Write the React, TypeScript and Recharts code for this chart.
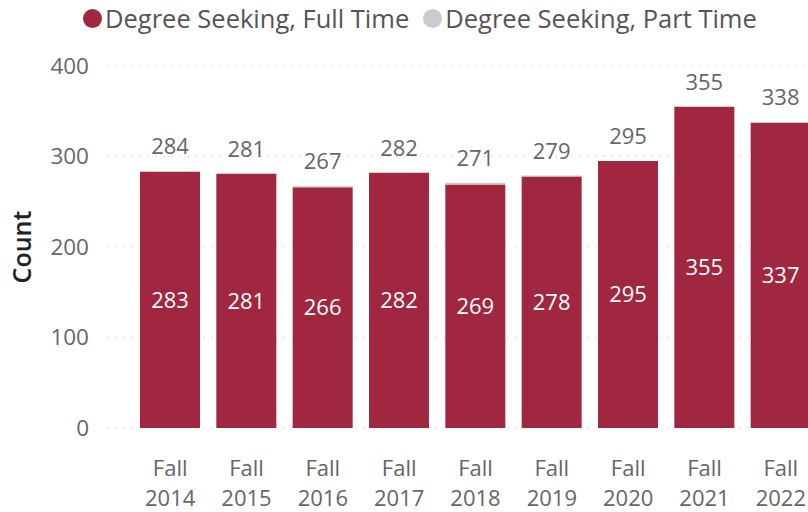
import { BarChart, Bar, XAxis, YAxis, CartesianGrid, LabelList } from 'recharts';

const years = ['2014', '2015', '2016', '2017', '2018', '2019', '2020', '2021', '2022'];
const fullTime = [283, 281, 266, 282, 269, 278, 295, 355, 337];
const partTime = [1, 0, 1, 0, 2, 1, 0, 0, 1];
const yTicks = [0, 100, 200, 300, 400];

const FULL_COLOR = '#A1263F';
const PART_COLOR = '#C8CCCC';
const FONT = '"Segoe UI", "Open Sans", sans-serif';

const data = years.map((year, i) => ({
  term: `Fall ${year}`,
  full: fullTime[i],
  part: partTime[i],
  total: fullTime[i] + partTime[i],
}));

const legendItems = [
  { label: 'Degree Seeking, Full Time', color: FULL_COLOR },
  { label: 'Degree Seeking, Part Time', color: PART_COLOR },
];

const XTick = (props: any) => {
  const { x, y, payload } = props;
  const [first, second] = String(payload.value).split(' ');
  return (
    <text x={x} y={y} textAnchor="middle" fill="#666" fontSize={22} fontFamily={FONT}>
      <tspan x={x} dy={40}>{first}</tspan>
      <tspan x={x} dy={30}>{second}</tspan>
    </text>
  );
};

// total label sits on top of the stack; part segment height is scaled from the full rect
const TotalLabel = (props: any) => {
  const { x, y, width, height, index } = props;
  const row = data[index];
  const partHeight = row.full ? (row.part * height) / row.full : 0;
  return (
    <text
      x={x + width / 2}
      y={y - partHeight - 17}
      textAnchor="middle"
      fill="#666"
      fontSize={22}
      fontFamily={FONT}
    >
      {row.total}
    </text>
  );
};

export default function App() {
  return (
    <div
      style={{
        position: 'absolute',
        left: 0,
        top: 0,
        width: 808,
        height: 512,
        overflow: 'hidden',
        background: '#fff',
      }}
    >
      <div
        style={{
          position: 'absolute',
          top: 1,
          left: 83,
          display: 'flex',
          alignItems: 'center',
          fontFamily: FONT,
          fontSize: 25.5,
          color: '#555',
          whiteSpace: 'nowrap',
        }}
      >
        {legendItems.map((item) => (
          <span key={item.label} style={{ display: 'flex', alignItems: 'center', marginRight: 14 }}>
            <span
              style={{
                width: 19,
                height: 19,
                borderRadius: 10,
                background: item.color,
                display: 'inline-block',
                marginRight: 3,
              }}
            />
            {item.label}
          </span>
        ))}
      </div>
      <BarChart
        width={830}
        height={512}
        data={data}
        margin={{ top: 66, right: 11, bottom: 0, left: 0 }}
      >
        <CartesianGrid vertical={false} stroke="#c8c8c8" strokeDasharray="1 7" />
        <XAxis
          dataKey="term"
          axisLine={false}
          tickLine={false}
          interval={0}
          height={84}
          padding={{ left: 24, right: 0 }}
          tick={<XTick />}
        />
        <YAxis
          width={108}
          domain={[0, 400]}
          ticks={yTicks}
          axisLine={false}
          tickLine={false}
          tickMargin={13}
          tick={{ fill: '#666', fontSize: 22.5, fontFamily: FONT }}
          label={{
            value: 'Count',
            angle: -90,
            position: 'insideLeft',
            offset: 22,
            style: { fill: '#222', fontSize: 25, fontWeight: 600, fontFamily: FONT, textAnchor: 'middle' },
          }}
        />
        <Bar dataKey="full" stackId="a" fill={FULL_COLOR} barSize={60} isAnimationActive={false}>
          <LabelList dataKey="full" position="center" fill="#fff" fontSize={22} fontFamily={FONT} />
          <LabelList dataKey="total" content={<TotalLabel />} />
        </Bar>
        <Bar dataKey="part" stackId="a" fill={PART_COLOR} barSize={60} isAnimationActive={false} />
      </BarChart>
    </div>
  );
}
